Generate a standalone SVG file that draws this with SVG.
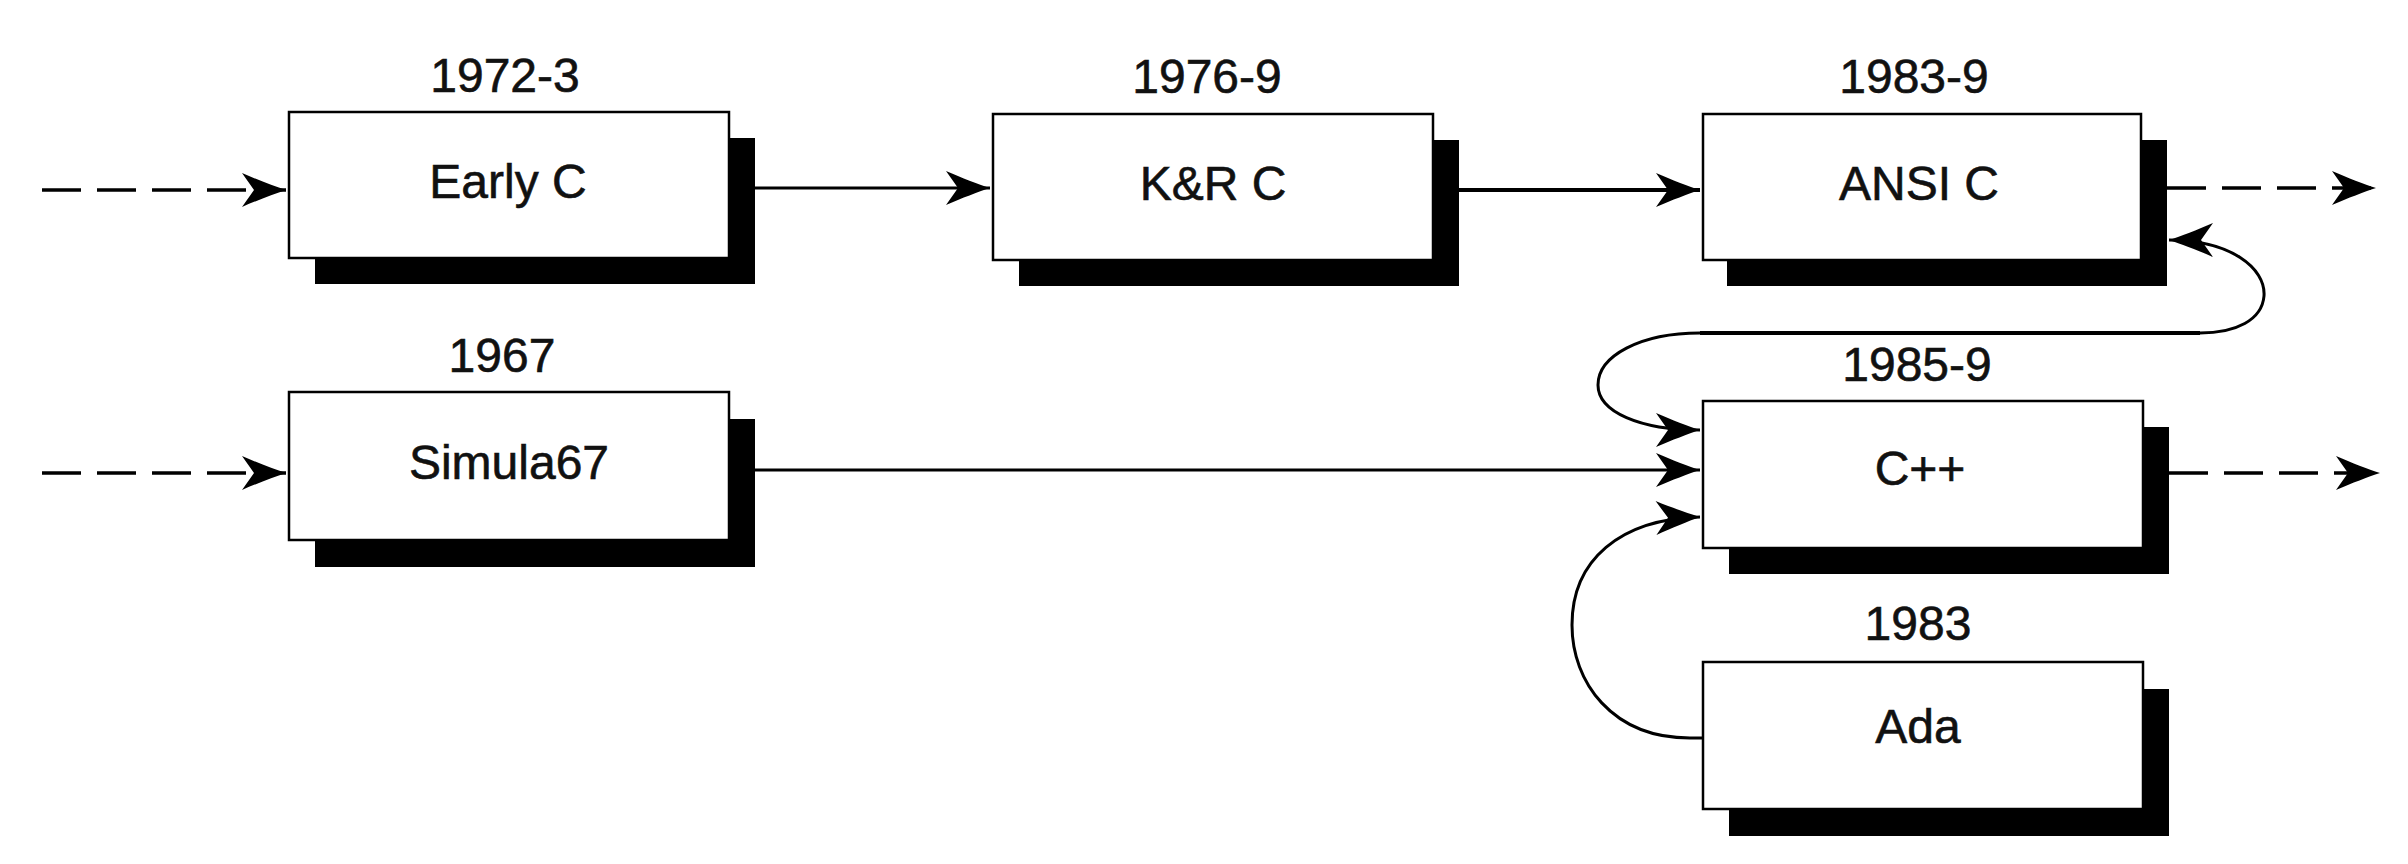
<svg xmlns="http://www.w3.org/2000/svg" width="2408" height="864" viewBox="0 0 2408 864">
<style>
.box{fill:#fff;stroke:#000;stroke-width:2.5}
.sh{fill:#000}
.t{font-family:"Liberation Sans",Arial,sans-serif;font-size:48px;fill:#111;stroke:#111;stroke-width:0.6;text-anchor:middle}
.c{fill:none;stroke:#000;stroke-width:3}
.thick{stroke-width:4}
.d{stroke-dasharray:39 16;stroke-width:3.5}
</style>
<defs>
<marker id="ah" markerUnits="userSpaceOnUse" viewBox="-48 -18 50 36" markerWidth="50" markerHeight="36" refX="0" refY="0" orient="auto-start-reverse">
<path d="M0,0 C-12,-4 -28,-10 -44,-17 L-32,0 L-44,17 C-28,10 -12,4 0,0 Z" fill="#000"/>
</marker>
</defs>
<rect width="2408" height="864" fill="#fff"/>
<g id="connectors">
<path class="c d" d="M42,190 L286,190" marker-end="url(#ah)"/>
<path class="c" d="M754,188 L990,188" marker-end="url(#ah)"/>
<path class="c thick" d="M1459,190 L1700,190" marker-end="url(#ah)"/>
<path class="c d" d="M2167,188 L2376,188" marker-end="url(#ah)"/>
<path class="c d" d="M42,473 L286,473" marker-end="url(#ah)"/>
<path class="c" d="M754,470 L1700,470" marker-end="url(#ah)"/>
<path class="c d" d="M2169,473 L2380,473" marker-end="url(#ah)"/>
<path class="c" d="M2169,240 C2230,240 2266,268 2264,296 C2262,320 2236,333 2200,333" marker-start="url(#ah)"/>
<path class="c thick" d="M2200,333 L1700,333"/>
<path class="c" d="M1700,333 C1640,333 1598,356 1598,385 C1598,412 1640,430 1700,430" marker-end="url(#ah)"/>
<path class="c" d="M1704,738 L1690,738 C1612,738 1572,682 1572,625 C1572,560 1620,519 1700,517" marker-end="url(#ah)"/>
</g>
<g id="early-c">
<rect class="sh" x="315" y="138" width="440" height="146"/>
<rect class="box" x="289" y="112" width="440" height="146"/>
<text class="t" x="505" y="92">1972-3</text>
<text class="t" x="508" y="198">Early C</text>
</g>
<g id="kr-c">
<rect class="sh" x="1019" y="140" width="440" height="146"/>
<rect class="box" x="993" y="114" width="440" height="146"/>
<text class="t" x="1207" y="93">1976-9</text>
<text class="t" x="1213" y="200">K&amp;R C</text>
</g>
<g id="ansi-c">
<rect class="sh" x="1727" y="140" width="440" height="146"/>
<rect class="box" x="1703" y="114" width="438" height="146"/>
<text class="t" x="1914" y="93">1983-9</text>
<text class="t" x="1919" y="200">ANSI C</text>
</g>
<g id="simula67">
<rect class="sh" x="315" y="419" width="440" height="148"/>
<rect class="box" x="289" y="392" width="440" height="148"/>
<text class="t" x="502" y="372">1967</text>
<text class="t" x="509" y="479">Simula67</text>
</g>
<g id="cpp">
<rect class="sh" x="1729" y="427" width="440" height="147"/>
<rect class="box" x="1703" y="401" width="440" height="147"/>
<text class="t" x="1917" y="381">1985-9</text>
<text class="t" x="1920" y="485">C++</text>
</g>
<g id="ada">
<rect class="sh" x="1729" y="689" width="440" height="147"/>
<rect class="box" x="1703" y="662" width="440" height="147"/>
<text class="t" x="1918" y="640">1983</text>
<text class="t" x="1918" y="743">Ada</text>
</g>
</svg>
